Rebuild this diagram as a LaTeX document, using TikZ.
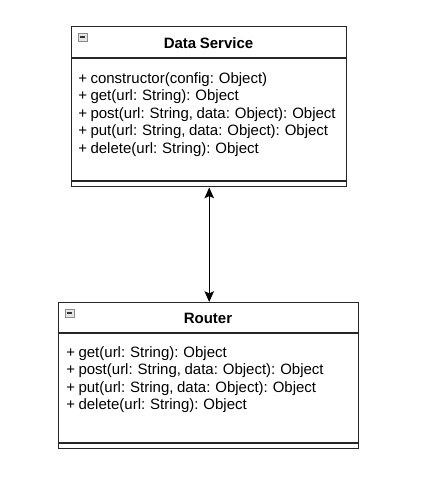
\documentclass[tikz,border=0pt]{standalone}
\usepackage{fontspec}
\setmainfont[WordSpace=0.85]{Liberation Sans}
\usetikzlibrary{arrows.meta}
\begin{document}
\begin{tikzpicture}[x=0.75pt,y=-0.75pt,
  classbox/.style={draw=black!85,line width=1.1pt,inner sep=0pt,anchor=north west},
  sepline/.style={draw=black!85,line width=1.1pt},
  member/.style={anchor=west,inner sep=0pt,font=\fontsize{11.25pt}{13.5pt}\selectfont},
  title/.style={inner sep=0pt,font=\fontsize{11.25pt}{13.5pt}\selectfont\bfseries},
  icon/.style={draw=black!45,fill=black!10,line width=0.6pt},
  tip/.tip={Stealth[length=8pt,width=7pt,inset=1.5pt]},
  link/.style={line width=1.1pt,tip-tip}]
\useasboundingbox (0,0) rectangle (421,487);
% Data Service
\node[classbox,minimum width=206.25pt,minimum height=120pt] (ds) at (71,26) {};
\draw[sepline] (71,58) -- (346,58);
\draw[sepline] (71,181) -- (346,181);
\draw[icon] (78,33) rectangle (87,41);
\draw[line width=0.8pt,black!80] (79.8,37) -- (85.2,37);
\node[title] (dst) at (208.5,43) {Data Service};
\node[member] (ds1) at (78,79.5) {+ constructor(config: Object)};
\node[member] (ds2) at (78,97) {+ get(url: String): Object};
\node[member] (ds3) at (78,114.5) {+ post(url: String, data: Object): Object};
\node[member] (ds4) at (78,132) {+ put(url: String, data: Object): Object};
\node[member] (ds5) at (78,149.5) {+ delete(url: String): Object};
% Router
\node[classbox,minimum width=225pt,minimum height=109.5pt] (rt) at (58,302) {};
\draw[sepline] (58,333) -- (358,333);
\draw[sepline] (58,443) -- (358,443);
\draw[icon] (65,309) rectangle (74,317);
\draw[line width=0.8pt,black!80] (66.8,313) -- (72.2,313);
\node[title] (rtt) at (208,318) {Router};
\node[member] (rt1) at (66,353.5) {+ get(url: String): Object};
\node[member] (rt2) at (66,371) {+ post(url: String, data: Object): Object};
\node[member] (rt3) at (66,388.5) {+ put(url: String, data: Object): Object};
\node[member] (rt4) at (66,406) {+ delete(url: String): Object};
% connector
\draw[link] (ds.south) -- (ds.south |- rt.north);
\end{tikzpicture}
\end{document}
